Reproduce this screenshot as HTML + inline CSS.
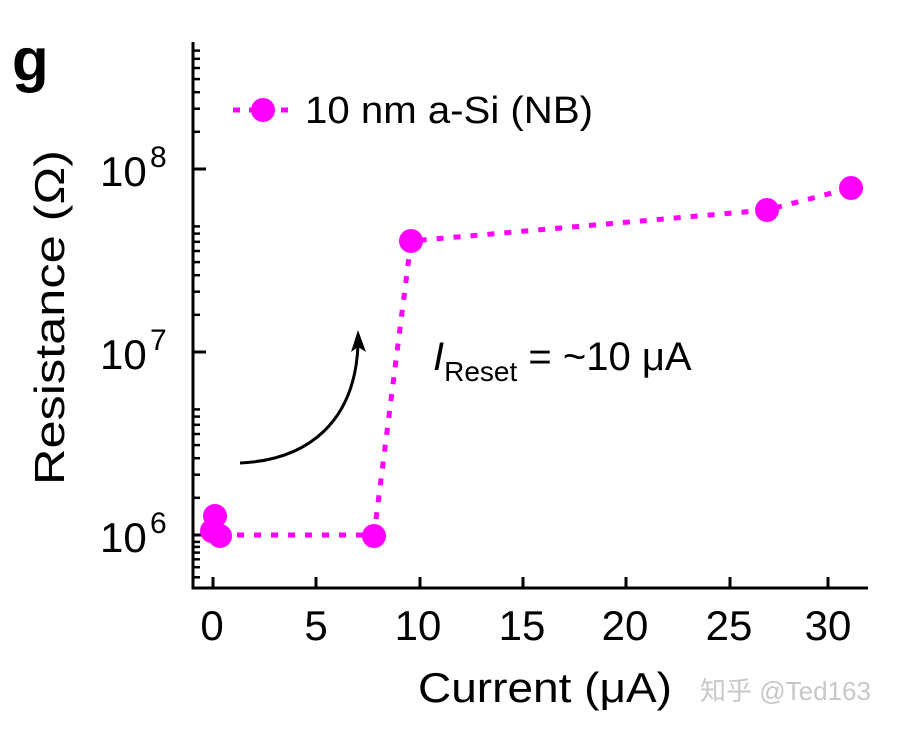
<!DOCTYPE html>
<html><head><meta charset="utf-8"><style>
body{margin:0;background:#fff;}
svg text{font-family:"Liberation Sans",Arial,sans-serif;fill:#000;}
</style></head><body>
<svg width="898" height="728" viewBox="0 0 898 728" xmlns="http://www.w3.org/2000/svg">
<text x="12" y="80" font-size="60" font-weight="bold">g</text>
<path d="M193 42 V588 H868" fill="none" stroke="#000" stroke-width="3"/>
<g stroke="#000" stroke-width="3">
<line x1="213" y1="588" x2="213" y2="577"/><line x1="316" y1="588" x2="316" y2="577"/>
<line x1="420" y1="588" x2="420" y2="577"/><line x1="523" y1="588" x2="523" y2="577"/>
<line x1="626" y1="588" x2="626" y2="577"/><line x1="730" y1="588" x2="730" y2="577"/>
<line x1="828" y1="588" x2="828" y2="577"/>
<line x1="193" y1="535" x2="206" y2="535"/><line x1="193" y1="352" x2="206" y2="352"/><line x1="193" y1="169" x2="206" y2="169"/>
</g>
<g stroke="#000" stroke-width="2.5">
<line x1="193" x2="200" y1="577.3" y2="577.3"/><line x1="193" x2="200" y1="567.2" y2="567.2"/><line x1="193" x2="200" y1="559.3" y2="559.3"/><line x1="193" x2="200" y1="552.6" y2="552.6"/><line x1="193" x2="200" y1="546.9" y2="546.9"/><line x1="193" x2="200" y1="541.9" y2="541.9"/>
<line x1="193" x2="200" y1="497.8" y2="497.8"/><line x1="193" x2="200" y1="474.7" y2="474.7"/><line x1="193" x2="200" y1="458.2" y2="458.2"/><line x1="193" x2="200" y1="445.1" y2="445.1"/><line x1="193" x2="200" y1="434.0" y2="434.0"/><line x1="193" x2="200" y1="424.8" y2="424.8"/><line x1="193" x2="200" y1="416.6" y2="416.6"/><line x1="193" x2="200" y1="409.4" y2="409.4"/>
<line x1="193" x2="200" y1="314.8" y2="314.8"/><line x1="193" x2="200" y1="291.7" y2="291.7"/><line x1="193" x2="200" y1="275.2" y2="275.2"/><line x1="193" x2="200" y1="262.1" y2="262.1"/><line x1="193" x2="200" y1="251.0" y2="251.0"/><line x1="193" x2="200" y1="241.8" y2="241.8"/><line x1="193" x2="200" y1="233.6" y2="233.6"/><line x1="193" x2="200" y1="226.4" y2="226.4"/>
<line x1="193" x2="200" y1="131.8" y2="131.8"/><line x1="193" x2="200" y1="108.7" y2="108.7"/><line x1="193" x2="200" y1="92.2" y2="92.2"/><line x1="193" x2="200" y1="79.1" y2="79.1"/><line x1="193" x2="200" y1="68.0" y2="68.0"/><line x1="193" x2="200" y1="58.8" y2="58.8"/><line x1="193" x2="200" y1="50.6" y2="50.6"/>
</g>
<g font-size="42" text-anchor="middle">
<text x="212" y="640">0</text><text x="316" y="640">5</text><text x="418" y="640">10</text>
<text x="522" y="640">15</text><text x="625" y="640">20</text><text x="729" y="640">25</text><text x="828" y="640">30</text>
</g>
<g font-size="42">
<text x="100" y="552">10</text><text x="150" y="533" font-size="30">6</text>
<text x="100" y="369">10</text><text x="150" y="350" font-size="30">7</text>
<text x="100" y="186">10</text><text x="150" y="167" font-size="30">8</text>
</g>
<text x="418" y="702" font-size="42" textLength="254" lengthAdjust="spacingAndGlyphs">Current (μA)</text>
<text transform="translate(64,485) rotate(-90)" font-size="42" textLength="335" lengthAdjust="spacingAndGlyphs">Resistance (Ω)</text>
<path d="M220 535 H374 L411 241 L767 210 L851 188" fill="none" stroke="#ff00ff" stroke-width="5" stroke-dasharray="7 10"/>
<g fill="#ff00ff">
<circle cx="215" cy="516" r="12"/><circle cx="212" cy="531" r="12"/><circle cx="220" cy="536" r="12"/>
<circle cx="374" cy="536" r="12"/><circle cx="411" cy="241" r="12"/><circle cx="767" cy="210" r="12"/><circle cx="851" cy="188" r="12"/>
</g>
<line x1="233" y1="110" x2="295" y2="110" stroke="#ff00ff" stroke-width="5" stroke-dasharray="7 9"/>
<circle cx="263" cy="110" r="12" fill="#ff00ff"/>
<text x="305" y="123" font-size="38" textLength="288" lengthAdjust="spacingAndGlyphs">10 nm a-Si (NB)</text>
<text x="433" y="370" font-size="40"><tspan font-style="italic">I</tspan><tspan font-size="28" dy="11">Reset</tspan><tspan dy="-11"> = ~10 μA</tspan></text>
<path d="M240 463 C310 460 355 420 358 345" fill="none" stroke="#000" stroke-width="3"/>
<path d="M358 330 L351 352 L358 347 L366 352 Z" fill="#000"/>
<text x="700" y="700" font-size="26" style="fill:#c8c8c8;font-family:'Liberation Sans','Noto Sans CJK SC',sans-serif">知乎 @Ted163</text>
</svg>
</body></html>
